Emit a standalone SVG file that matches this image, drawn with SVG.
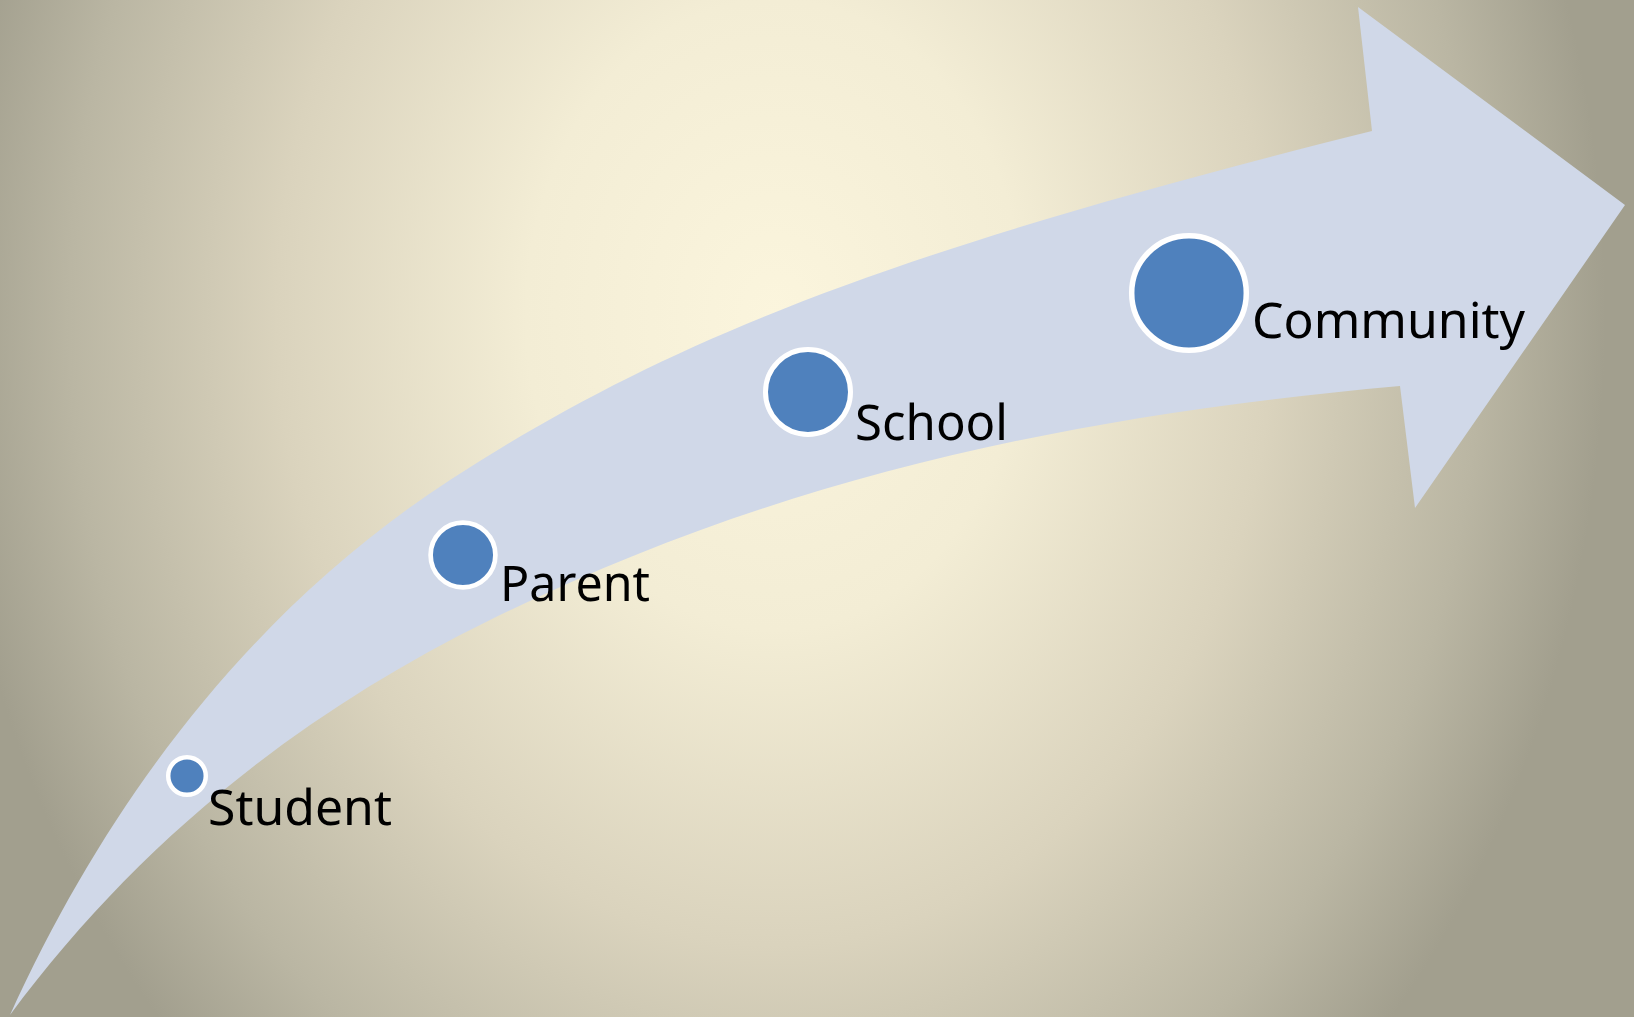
<svg xmlns="http://www.w3.org/2000/svg" width="1634" height="1017" viewBox="0 0 1634 1017">
  <defs>
    <radialGradient id="bg" gradientUnits="userSpaceOnUse" cx="775" cy="315" r="1000" gradientTransform="translate(775 315) scale(0.83 1.05) translate(-775 -315)">
      <stop offset="0" stop-color="#FBF5DD"/>
      <stop offset="0.3" stop-color="#F3EDD5"/>
      <stop offset="0.6" stop-color="#DAD3BD"/>
      <stop offset="0.85" stop-color="#BAB6A3"/>
      <stop offset="1" stop-color="#A29F8E"/>
    </radialGradient>
  </defs>
  <style>
    .arrow { fill: #D0D8E8; }
    .dot { fill: #4F81BD; stroke: #FFFFFF; }
    .lbl { font-family: "Noto Sans", "Open Sans", sans-serif; font-size: 50px; fill: #000000; }
  </style>
  <rect x="0" y="0" width="1634" height="1017" fill="url(#bg)"/>
  <g id="connectors">
    <path class="arrow" d="M10,1015 C116,781.8 265.6,599.9 450,480 C672,335.7 902.5,248.4 1372,131 L1358,7 L1625,205 L1415,508 L1400,386 C1029.2,419.4 756.2,489.6 490,620 C293.8,716.2 133.9,847.7 10,1015 Z"/>
  </g>
  <g id="student">
    <circle class="dot" cx="187" cy="776" r="18.8" stroke-width="4.5"/>
    <text class="lbl" x="208" y="825" textLength="184" lengthAdjust="spacingAndGlyphs">Student</text>
  </g>
  <g id="parent">
    <circle class="dot" cx="463" cy="555" r="32.4" stroke-width="4.7"/>
    <text class="lbl" x="500" y="601" textLength="150" lengthAdjust="spacingAndGlyphs">Parent</text>
  </g>
  <g id="school">
    <circle class="dot" cx="808" cy="392" r="42.5" stroke-width="5"/>
    <text class="lbl" x="855" y="440" textLength="153" lengthAdjust="spacingAndGlyphs">School</text>
  </g>
  <g id="community">
    <circle class="dot" cx="1189" cy="293" r="57.3" stroke-width="5.5"/>
    <text class="lbl" x="1252" y="338" textLength="273" lengthAdjust="spacingAndGlyphs">Community</text>
  </g>
</svg>
